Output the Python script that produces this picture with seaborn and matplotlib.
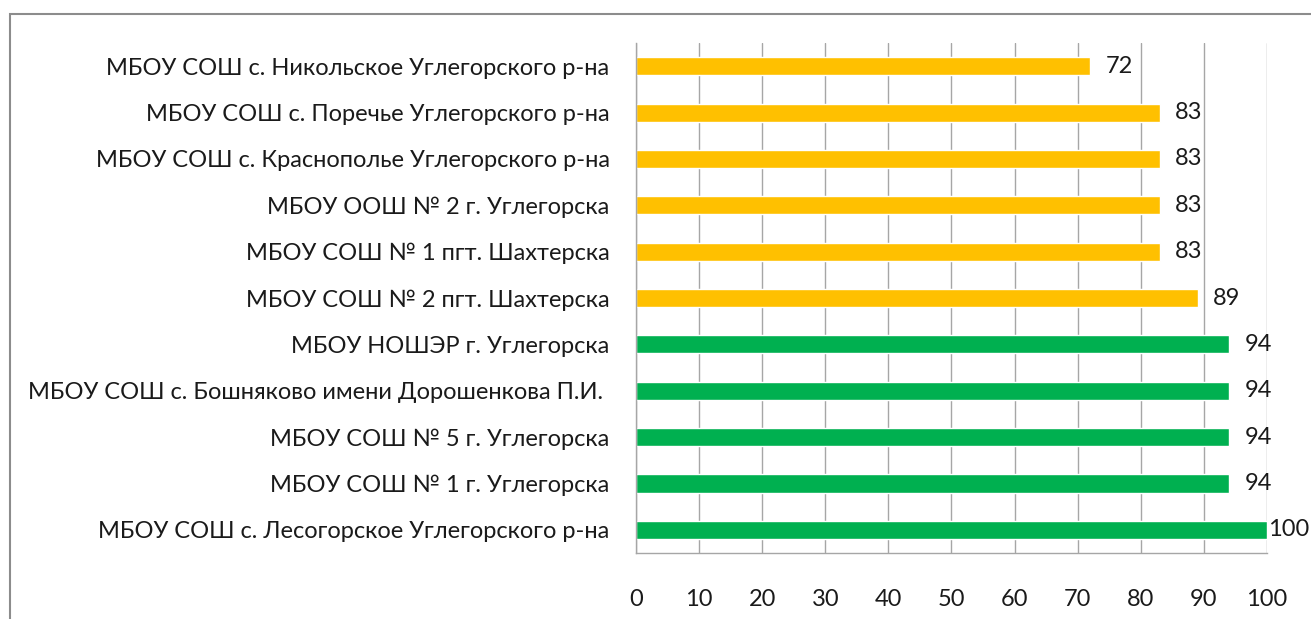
import numpy as np
import pandas as pd
import matplotlib
matplotlib.use("Agg")
import matplotlib.pyplot as plt
import seaborn as sns
from matplotlib.patches import Rectangle

schools = [
    "МБОУ СОШ с. Никольское Углегорского р-на",
    "МБОУ СОШ с. Поречье Углегорского р-на",
    "МБОУ СОШ с. Краснополье Углегорского р-на",
    "МБОУ ООШ № 2 г. Углегорска",
    "МБОУ СОШ № 1 пгт. Шахтерска",
    "МБОУ СОШ № 2 пгт. Шахтерска",
    "МБОУ НОШЭР г. Углегорска",
    "МБОУ СОШ с. Бошняково имени Дорошенкова П.И. ",
    "МБОУ СОШ № 5 г. Углегорска",
    "МБОУ СОШ № 1 г. Углегорска",
    "МБОУ СОШ с. Лесогорское Углегорского р-на",
]
scores = [72, 83, 83, 83, 83, 89, 94, 94, 94, 94, 100]
group = ["low"] * 6 + ["high"] * 5

df = pd.DataFrame({"school": schools, "score": scores, "group": group})

sns.set_style("white")
plt.rcParams["font.family"] = ["Lato", "DejaVu Sans"]

fig = plt.figure(figsize=(13.11, 6.19), dpi=100)
ax = fig.add_axes([0.4851, 0.1066, 0.4813, 0.8239])

sns.barplot(data=df, x="score", y="school", hue="group",
            palette={"low": "#FFC000", "high": "#00B050"},
            dodge=False, width=0.39, legend=False, ax=ax, saturation=1)

ax.set_xlim(0, 100)
ax.set_ylim(len(schools) - 0.5, -0.5)
ax.set_xticks(np.arange(0, 101, 10))
ax.set_xlabel("")
ax.set_ylabel("")

ax.grid(axis="x", color="#A6A6A6", linewidth=1.0)
ax.set_axisbelow(True)
for s in ["top", "right"]:
    ax.spines[s].set_visible(False)
for s in ["left", "bottom"]:
    ax.spines[s].set_color("#A6A6A6")
    ax.spines[s].set_linewidth(1.0)

fs = 17
ax.tick_params(axis="y", which="major", length=0, pad=19, labelsize=fs, labelcolor="#1a1a1a")
ax.set_yticks(np.arange(-0.5, len(schools) + 0.5, 1), minor=True)
ax.tick_params(axis="y", which="minor", length=6, color="#A6A6A6", width=1)
ax.tick_params(axis="x", length=6, color="#A6A6A6", width=1, pad=20, labelsize=fs, labelcolor="#1a1a1a")

for i, v in enumerate(scores):
    pad = 1 if v == 100 else 11
    ax.annotate(str(v), xy=(v, i), xytext=(pad, 0), textcoords="offset points",
                va="center", ha="left", fontsize=fs, color="#1a1a1a",
                annotation_clip=False)

fig.patches.append(Rectangle((10 / 1311, -0.1), 1.2, 1 - 14 / 619 + 0.1,
                             transform=fig.transFigure, fill=False,
                             edgecolor="#8c8c8c", linewidth=1.5))

fig.savefig("out.png", dpi=100)
